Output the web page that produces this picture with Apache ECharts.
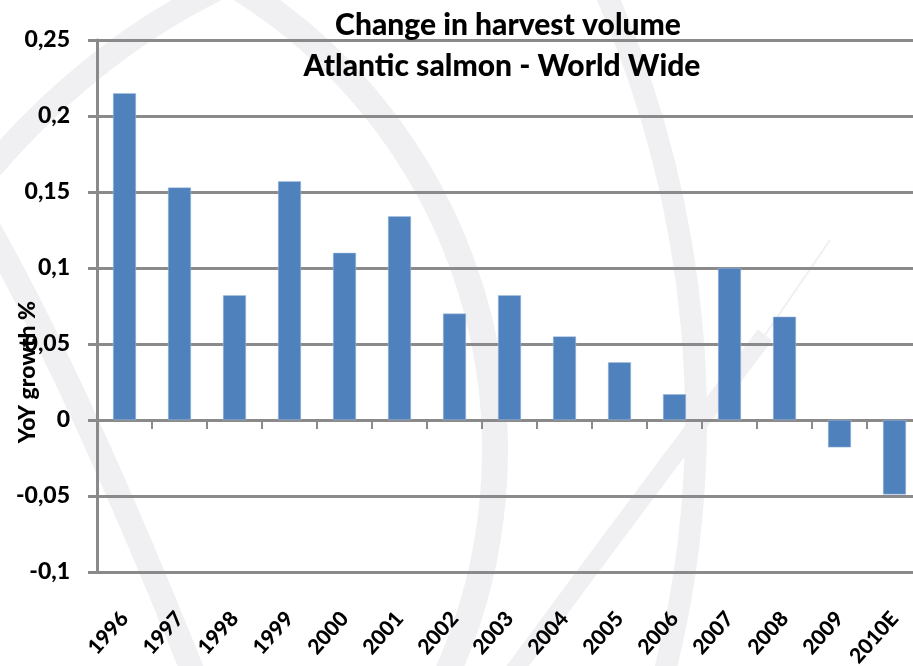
<!DOCTYPE html>
<html>
<head>
<meta charset="utf-8">
<style>
  html, body { margin: 0; padding: 0; background: #ffffff; }
  #chart { width: 913px; height: 666px; }
</style>
<script src="https://cdn.jsdelivr.net/npm/echarts@6/dist/echarts.min.js"></script>
</head>
<body>
<div id="chart"></div>
<script>
// Year-over-year change in Atlantic salmon harvest volume, world wide
const years = ['1996', '1997', '1998', '1999', '2000', '2001', '2002', '2003',
               '2004', '2005', '2006', '2007', '2008', '2009', '2010E'];
const yoyGrowth = [0.215, 0.153, 0.082, 0.157, 0.110, 0.134, 0.070, 0.082,
                   0.055, 0.038, 0.017, 0.100, 0.068, -0.018, -0.049];
const yMin = -0.1, yMax = 0.25, yStep = 0.05;

const titleLines = ['Change in harvest volume', 'Atlantic salmon - World Wide'];
const yTitle = 'YoY growth %';

const FONT = 'Lato, "Open Sans", sans-serif';
const GRID_GREY = '#8a8a8a';
const BAND = '#f0f0f3';

const chart = echarts.init(document.getElementById('chart'), null, { renderer: 'canvas' });

const fmt = v => String(+v.toFixed(2)).replace('.', ',');

chart.setOption({
  backgroundColor: '#ffffff',
  animation: false,
  title: [
    { text: titleLines[0], left: 503, top: 5, textAlign: 'center',
      textStyle: { fontFamily: FONT, fontWeight: 900, fontSize: 30, color: '#000' } },
    { text: titleLines[1], left: 497, top: 46, textAlign: 'center',
      textStyle: { fontFamily: FONT, fontWeight: 900, fontSize: 30, color: '#000' } }
  ],
  graphic: {
    elements: [
      // faint globe watermark behind the plot
      { type: 'bezierCurve', z: -10, silent: true,
        shape: { x1: 225, y1: -15, x2: -15, y2: 175, cpx1: 90, cpy1: 50 },
        style: { stroke: BAND, lineWidth: 24, fill: null } },
      { type: 'arc', z: -10, silent: true,
        shape: { cx: -50, cy: 450, r: 545, startAngle: -1.05, endAngle: 0.45, clockwise: true },
        style: { stroke: BAND, lineWidth: 26, fill: null } },
      { type: 'bezierCurve', z: -10, silent: true,
        shape: { x1: -10, y1: 230, x2: 200, y2: 690, cpx1: 85, cpy1: 400 },
        style: { stroke: BAND, lineWidth: 24, fill: null } },
      { type: 'bezierCurve', z: -10, silent: true,
        shape: { x1: 600, y1: -20, x2: 660, y2: 690, cpx1: 700, cpy1: 200, cpx2: 725, cpy2: 450 },
        style: { stroke: BAND, lineWidth: 22, fill: null } },
      { type: 'bezierCurve', z: -10, silent: true,
        shape: { x1: 500, y1: 690, x2: 765, y2: 335, cpx1: 640, cpy1: 500 },
        style: { stroke: BAND, lineWidth: 18, fill: null } },
      { type: 'line', z: -10, silent: true,
        shape: { x1: 765, y1: 335, x2: 830, y2: 240 },
        style: { stroke: BAND, lineWidth: 2 } },
      // vertical axis title
      { type: 'text', z: 10, x: 28, y: 372, rotation: Math.PI / 2,
        style: { text: yTitle, fontFamily: FONT, fontWeight: 900, fontSize: 23,
                 fill: '#000', align: 'center', verticalAlign: 'middle' } }
    ]
  },
  grid: { left: 97, top: 40, width: 825, height: 532, containLabel: false, outerBoundsMode: 'none' },
  xAxis: [
    {
      type: 'category', data: years, position: 'bottom',
      axisLine: { onZero: true, lineStyle: { color: GRID_GREY, width: 3 } },
      axisTick: { show: true, alignWithLabel: false, length: 9, lineStyle: { color: GRID_GREY, width: 2 } },
      axisLabel: { show: false },
      splitLine: { show: false }
    },
    {
      type: 'category', data: years, position: 'bottom',
      axisLine: { show: false, onZero: false },
      axisTick: { show: false },
      axisLabel: { show: true, rotate: 48, margin: 43, interval: 0,
                   fontFamily: FONT, fontWeight: 900, fontSize: 21, color: '#000' },
      splitLine: { show: false }
    }
  ],
  yAxis: {
    type: 'value', min: yMin, max: yMax, interval: yStep,
    axisLine: { show: true, lineStyle: { color: GRID_GREY, width: 3 } },
    axisTick: { show: true, inside: false, length: 9, lineStyle: { color: GRID_GREY, width: 3 } },
    axisLabel: { margin: 27, formatter: fmt, fontFamily: FONT, fontWeight: 900, fontSize: 23, color: '#000' },
    splitLine: { show: true, lineStyle: { color: GRID_GREY, width: 3 } }
  },
  series: [{
    type: 'bar', xAxisIndex: 0, yAxisIndex: 0,
    data: yoyGrowth, barWidth: 23,
    itemStyle: { color: '#4f81bd', borderColor: '#a9c0e0', borderWidth: 0.5 }
  }]
});
</script>
</body>
</html>
